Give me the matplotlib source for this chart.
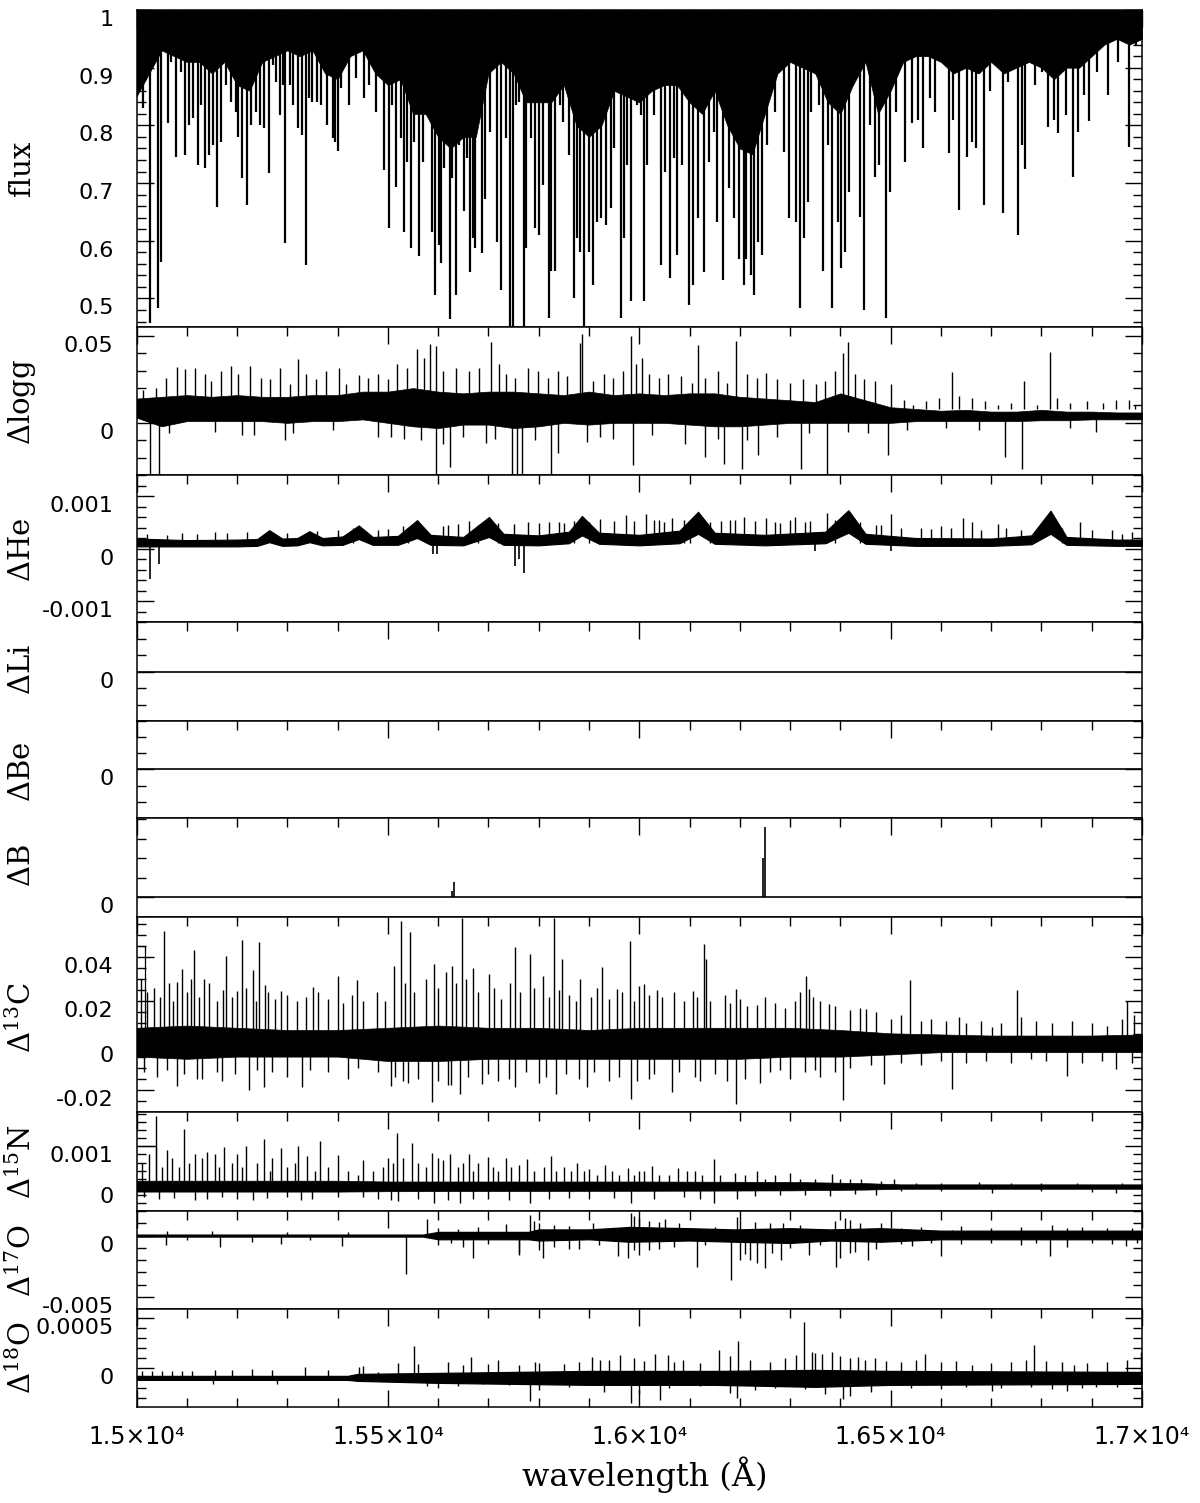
import numpy as np
import matplotlib
matplotlib.use("Agg")
import matplotlib.pyplot as plt

plt.rcParams['mathtext.fontset'] = 'dejavuserif'

# ---------------- data ----------------
# flux: absorption line centres (A) and line-core flux
flux_line_wl = [15012, 15027, 15042, 15049, 15063, 15069, 15079, 15089, 15097, 15105,
                15112, 15123, 15128, 15137, 15145, 15153, 15160, 15168, 15178, 15188,
                15198, 15201, 15209, 15219, 15228, 15238, 15246, 15254, 15264, 15272,
                15277, 15285, 15291, 15296, 15305, 15311, 15321, 15329, 15337, 15344,
                15350, 15360, 15367, 15378, 15390, 15395, 15401, 15407, 15423, 15437,
                15453, 15463, 15476, 15492, 15503, 15509, 15516, 15526, 15533, 15539,
                15546, 15552, 15561, 15569, 15577, 15588, 15594, 15601, 15606, 15612,
                15624, 15628, 15635, 15642, 15652, 15657, 15664, 15670,
                15674, 15688, 15694, 15704, 15717, 15725, 15734, 15743, 15749, 15754,
                15761, 15770, 15774, 15784, 15792, 15800, 15809, 15820, 15825, 15833,
                15842, 15849, 15860, 15870, 15877, 15883, 15891, 15900, 15908, 15916,
                15923, 15933, 15943, 15949, 15963, 15969, 15976, 15984, 15996, 16003,
                16010, 16016, 16029, 16044, 16052, 16062, 16069, 16075, 16085, 16099,
                16107, 16117, 16128, 16138, 16148, 16155, 16167, 16178, 16188, 16199,
                16209, 16213, 16223, 16229, 16236, 16245, 16254, 16271, 16288, 16298,
                16311, 16319, 16327,
                16335, 16342, 16357, 16366, 16376, 16384, 16395, 16401, 16410, 16418,
                16426, 16439, 16448, 16459, 16469, 16476, 16490, 16498, 16511, 16528,
                16543, 16555, 16565, 16579, 16589, 16603, 16616, 16625, 16636, 16652,
                16662, 16669, 16685, 16698, 16723, 16733, 16754, 16762, 16768, 16787,
                16802, 16813, 16824, 16833, 16848, 16862, 16872, 16884, 16895, 16910,
                16932, 16953, 16974, 16988]
flux_line_min = [0.830, 0.457, 0.483, 0.564, 0.804, 0.910, 0.746, 0.893, 0.749, 0.801,
                 0.812, 0.731, 0.835, 0.726, 0.749, 0.766, 0.659, 0.772, 0.870, 0.841,
                 0.824, 0.780, 0.708, 0.662, 0.801, 0.824, 0.801, 0.795, 0.717, 0.905,
                 0.876, 0.818, 0.870, 0.596, 0.870, 0.835, 0.795, 0.783, 0.558, 0.847,
                 0.841, 0.841, 0.835, 0.801, 0.778, 0.772, 0.755, 0.864, 0.835, 0.882,
                 0.847, 0.870, 0.824, 0.723, 0.622, 0.835, 0.694, 0.778, 0.616, 0.737,
                 0.587, 0.772, 0.573, 0.737, 0.818, 0.616, 0.506, 0.593, 0.561, 0.726,
                 0.465, 0.708, 0.506, 0.766, 0.651, 0.743, 0.546, 0.604,
                 0.587, 0.578, 0.673, 0.789, 0.598, 0.515, 0.778, 0.440, 0.440, 0.835,
                 0.841, 0.440, 0.587, 0.778, 0.622, 0.610, 0.697, 0.466, 0.547, 0.547,
                 0.835, 0.806, 0.749, 0.500, 0.604, 0.581, 0.440, 0.581, 0.523, 0.633,
                 0.639, 0.627, 0.656, 0.760, 0.466, 0.604, 0.731, 0.495, 0.835, 0.818,
                 0.495, 0.731, 0.818, 0.558, 0.720, 0.535, 0.743, 0.575, 0.731, 0.489,
                 0.523, 0.639, 0.546, 0.737, 0.789, 0.633, 0.532, 0.691, 0.639, 0.569,
                 0.523, 0.569, 0.540, 0.506, 0.598, 0.575, 0.766, 0.824, 0.754, 0.639,
                 0.633, 0.483, 0.604,
                 0.668, 0.824, 0.835, 0.547, 0.766, 0.483, 0.633, 0.552, 0.581, 0.685,
                 0.870, 0.642, 0.480, 0.801, 0.711, 0.731, 0.466, 0.685, 0.824, 0.737,
                 0.804, 0.809, 0.760, 0.847, 0.824, 0.910, 0.752, 0.809, 0.653, 0.746,
                 0.772, 0.760, 0.662, 0.859, 0.648, 0.876, 0.610, 0.766, 0.725, 0.870,
                 0.893, 0.798, 0.809, 0.786, 0.818, 0.711, 0.789, 0.853, 0.807, 0.893,
                 0.853, 0.910, 0.763, 0.939]
# flux: lower edge of the blended (solid) region
flux_env_wl = [15000, 15025, 15050, 15075, 15100, 15125, 15150, 15175, 15200, 15225,
               15250, 15275, 15300, 15325, 15350, 15375, 15400, 15425, 15450, 15475,
               15500, 15525, 15550, 15575, 15600, 15625, 15650, 15675, 15700, 15725,
               15750, 15775, 15800, 15825, 15850, 15875, 15900, 15925, 15950, 15975,
               16000, 16025, 16050, 16075, 16100, 16125, 16150, 16175, 16200, 16225,
               16250, 16275, 16300, 16325, 16350, 16375, 16400, 16425, 16450, 16475,
               16500, 16525, 16550, 16575, 16600, 16625, 16650, 16675, 16700, 16725,
               16750, 16775, 16800, 16825, 16850, 16875, 16900, 16925, 16950, 16975, 17000]
flux_env = [0.85, 0.89, 0.93, 0.92, 0.91, 0.91, 0.89, 0.91, 0.87, 0.86,
            0.91, 0.92, 0.93, 0.92, 0.93, 0.89, 0.88, 0.92, 0.93, 0.89,
            0.87, 0.88, 0.82, 0.82, 0.78, 0.76, 0.78, 0.78, 0.89, 0.91,
            0.89, 0.84, 0.84, 0.84, 0.87, 0.80, 0.78, 0.80, 0.86, 0.85,
            0.84, 0.86, 0.87, 0.87, 0.84, 0.82, 0.86, 0.80, 0.76, 0.75,
            0.82, 0.89, 0.91, 0.90, 0.89, 0.84, 0.82, 0.87, 0.91, 0.82,
            0.86, 0.91, 0.92, 0.92, 0.91, 0.89, 0.90, 0.89, 0.91, 0.89,
            0.90, 0.91, 0.90, 0.88, 0.90, 0.90, 0.92, 0.94, 0.95, 0.94, 0.95]

# delta log g
env_wl = [15000, 15050, 15100, 15150, 15200, 15250, 15300, 15350, 15400, 15450,
          15500, 15550, 15600, 15650, 15700, 15750, 15800, 15850, 15900, 15950,
          16000, 16050, 16100, 16150, 16200, 16250, 16300, 16350, 16400, 16450,
          16500, 16550, 16600, 16650, 16700, 16750, 16800, 16850, 16900, 16950, 17000]
logg_hi = [0.014, 0.015, 0.016, 0.015, 0.016, 0.015, 0.015, 0.016, 0.016, 0.018,
           0.018, 0.020, 0.018, 0.017, 0.018, 0.018, 0.017, 0.016, 0.018, 0.016,
           0.017, 0.016, 0.017, 0.017, 0.015, 0.014, 0.013, 0.012, 0.017, 0.013,
           0.009, 0.008, 0.007, 0.0075, 0.0065, 0.0065, 0.0075, 0.0065, 0.0065, 0.006, 0.006]
logg_lo = [0.003, -0.002, 0.001, 0.001, 0.001, 0.001, 0.0, 0.001, 0.001, 0.002,
           0.0, -0.002, -0.003, -0.001, -0.001, -0.003, -0.002, 0.0, -0.001, 0.0,
           0.0, 0.0, -0.001, -0.002, -0.002, -0.001, 0.0, 0.0, 0.0, 0.0,
           0.0, 0.001, 0.001, 0.001, 0.001, 0.001, 0.0015, 0.0015, 0.002, 0.002, 0.002]
logg_up_wl = [15081, 15117, 15188, 15225, 15286, 15322, 15403, 15442, 15558, 15584,
              15595, 15705, 15779, 15883, 15887, 15984, 16006, 16117, 16192, 16253,
              16406, 16416, 16623, 16818, 16766, 16974,
              15013, 15039, 15058, 15097, 15136, 15149, 15169, 15201, 15247, 15266,
              15305, 15338, 15357, 15377, 15416, 15461, 15481, 15500, 15519, 15539,
              15571, 15610, 15636, 15662, 15682, 15721, 15734, 15753, 15799, 15818,
              15838, 15857, 15909, 15929, 15948, 15968, 15994, 16019, 16039, 16058,
              16084, 16104, 16130, 16156, 16175, 16214, 16234, 16273, 16299, 16325,
              16351, 16370, 16390, 16429, 16448, 16468, 16500, 16526, 16545, 16571,
              16597, 16636, 16662, 16688, 16714, 16740, 16792, 16831, 16857, 16890,
              16922, 16948, 16987]
logg_up = [0.0322, 0.0318, 0.0328, 0.0328, 0.0318, 0.0366, 0.0318, 0.0275, 0.0424, 0.0453,
           0.0444, 0.0463, 0.0318, 0.0457, 0.0512, 0.0502, 0.0376, 0.0450, 0.0469, 0.0289,
           0.0400, 0.0463, 0.0295, 0.0405, 0.0241, 0.0134,
           0.0192, 0.0202, 0.0260, 0.0308, 0.0279, 0.0240, 0.0298, 0.0279, 0.0260, 0.0250,
           0.0221, 0.0279, 0.0250, 0.0298, 0.0221, 0.0260, 0.0279, 0.0250, 0.0337, 0.0318,
           0.0376, 0.0298, 0.0318, 0.0298, 0.0318, 0.0337, 0.0279, 0.0260, 0.0298, 0.0260,
           0.0298, 0.0269, 0.0240, 0.0279, 0.0260, 0.0298, 0.0337, 0.0279, 0.0260, 0.0279,
           0.0269, 0.0231, 0.0260, 0.0298, 0.0231, 0.0279, 0.0260, 0.0250, 0.0231, 0.0250,
           0.0221, 0.0240, 0.0298, 0.0279, 0.0250, 0.0240, 0.0221, 0.0134, 0.0105, 0.0124,
           0.0143, 0.0153, 0.0143, 0.0124, 0.0105, 0.0115, 0.0105, 0.0143, 0.0115, 0.0124,
           0.0115, 0.0134, 0.0105]
logg_dn_wl = [15026, 15045, 15210, 15296, 15506, 15595, 15623, 15695, 15747, 15756,
              15766, 15825, 15838, 15987, 16130, 16169, 16204, 16236, 16322, 16374,
              16494, 16727, 16762, 16909,
              15065, 15156, 15234, 15312, 15390, 15481, 15532, 15565, 15610, 15649,
              15714, 15792, 15896, 15922, 15948, 16026, 16091, 16156, 16214, 16273,
              16338, 16416, 16455, 16532, 16610, 16675, 16857]
logg_dn = [-0.035, -0.035, -0.0070, -0.0098, -0.0080, -0.0293, -0.0255, -0.0118, -0.035, -0.035,
           -0.035, -0.035, -0.0176, -0.0244, -0.0195, -0.0235, -0.0264, -0.0186, -0.0264, -0.0293,
           -0.0186, -0.0195, -0.0264, -0.0050,
           -0.006, -0.005, -0.007, -0.006, -0.004, -0.008, -0.009, -0.010, -0.012, -0.008,
           -0.009, -0.010, -0.011, -0.008, -0.009, -0.007, -0.012, -0.009, -0.010, -0.008,
           -0.006, -0.005, -0.006, -0.004, -0.003, -0.004, -0.003]

# delta He (band with Brackett-line bumps)
he_wl = [15000, 15100, 15200, 15240, 15264, 15290, 15320, 15344, 15370, 15410,
         15442, 15470, 15520, 15558, 15585, 15650, 15701, 15730, 15800, 15860,
         15886, 15920, 16000, 16080, 16117, 16150, 16250, 16370, 16416, 16450,
         16550, 16700, 16780, 16818, 16850, 16950, 17000]
he_lo = [0.00004, 0.00004, 0.00004, 0.00005, 0.00012, 0.00005, 0.00006, 0.00012, 0.00006, 0.00007,
         0.00018, 0.00007, 0.00007, 0.00020, 0.00007, 0.00006, 0.00022, 0.00007, 0.00006, 0.00010,
         0.00025, 0.00009, 0.00006, 0.00010, 0.00028, 0.00009, 0.00006, 0.00010, 0.00030, 0.00009,
         0.00005, 0.00005, 0.00008, 0.00028, 0.00007, 0.00005, 0.00005]
he_hi = [0.00019, 0.00016, 0.00017, 0.00018, 0.00035, 0.00019, 0.00020, 0.00033, 0.00020, 0.00023,
         0.00044, 0.00022, 0.00024, 0.00054, 0.00026, 0.00022, 0.00060, 0.00028, 0.00025, 0.00032,
         0.00062, 0.00030, 0.00026, 0.00034, 0.00070, 0.00030, 0.00026, 0.00032, 0.00073, 0.00028,
         0.00020, 0.00019, 0.00025, 0.00072, 0.00022, 0.00017, 0.00017]
he_up_wl = [15922, 15974, 16013, 16065, 16162, 16208, 16253, 16309, 16374, 16500,
            16643, 16662, 16714, 16877, 16961, 15662, 15779, 15610, 15156,
            15820, 15850, 15950, 16040, 16100, 16190, 16280, 16340, 16470, 16560,
            15020, 15060, 15090, 15120, 15180, 15220, 15300, 15360, 15400, 15430,
            15480, 15500, 15530, 15540, 15620, 15640, 15680, 15720, 15750, 15800,
            15840, 15870, 15900, 15990, 16030, 16050, 16090, 16140, 16180, 16230,
            16270, 16300, 16330, 16390, 16440, 16480, 16520, 16580, 16600, 16620,
            16680, 16730, 16760, 16840, 16900, 16940, 16980]
he_up = [0.00056, 0.00063, 0.00065, 0.00059, 0.00053, 0.00060, 0.00059, 0.00060, 0.00067, 0.00066,
         0.00059, 0.00050, 0.00047, 0.00050, 0.00028, 0.00053, 0.00050, 0.00042, 0.00031,
         0.00050, 0.00048, 0.00052, 0.00055, 0.00050, 0.00054, 0.00048, 0.00052, 0.00045, 0.00040,
         0.00028, 0.00025, 0.00030, 0.00028, 0.00030, 0.00032, 0.00030, 0.00034, 0.00035, 0.00040,
         0.00036, 0.00038, 0.00042, 0.00040, 0.00044, 0.00046, 0.00045, 0.00048, 0.00046, 0.00048,
         0.00050, 0.00052, 0.00050, 0.00052, 0.00054, 0.00050, 0.00054, 0.00050, 0.00055, 0.00052,
         0.00050, 0.00054, 0.00050, 0.00054, 0.00050, 0.00045, 0.00040, 0.00038, 0.00042, 0.00040,
         0.00036, 0.00040, 0.00036, 0.00040, 0.00036, 0.00035, 0.00032]
he_dn_wl = [15026, 15045, 15753, 15770, 15597, 15590, 15760, 16350, 16500]
he_dn = [-0.00058, -0.00030, -0.00034, -0.00047, -0.00010, -0.00010, -0.00020, -0.00005, -0.00005]

# delta B
b_wl = [15627, 15632, 16246, 16251]
b_val = [0.00035, 0.00081, 0.0020, 0.0036]

# delta 13C
c13_wl = [15000, 15100, 15200, 15300, 15400, 15500, 15600, 15700, 15800, 15900, 16000,
          16100, 16200, 16300, 16400, 16500, 16600, 16700, 16800, 16900, 17000]
c13_hi = [0.008, 0.009, 0.008, 0.007, 0.007, 0.008, 0.009, 0.008, 0.008, 0.007, 0.008,
          0.008, 0.008, 0.008, 0.007, 0.0055, 0.005, 0.0045, 0.0045, 0.0045, 0.005]
c13_lo = [-0.005, -0.006, -0.005, -0.005, -0.005, -0.007, -0.007, -0.006, -0.006, -0.006, -0.006,
          -0.006, -0.006, -0.005, -0.005, -0.004, -0.003, -0.003, -0.003, -0.003, -0.003]
c13_up_wl = [15055, 15114, 15179, 15210, 15243, 15526, 15545, 15647, 15753, 15831,
             15981, 16129, 16331, 16539, 16751, 16970, 15081, 15091, 15135, 15199,
             15231, 15255, 15288, 15351, 15400, 15439, 15513, 15591, 15627, 15669,
             15701, 15782, 15809, 15847, 15883, 15925, 15955, 16010, 16036, 16106,
             16132, 16192, 16234, 16338, 16377, 16452, 16636, 16701,
             15008, 15020, 15035, 15046, 15065, 15072, 15100, 15108, 15125, 15145,
             15160, 15172, 15190, 15218, 15238, 15262, 15275, 15300, 15320, 15338,
             15362, 15380, 15410, 15428, 15450, 15478, 15495, 15535, 15552, 15575,
             15600, 15615, 15635, 15655, 15680, 15712, 15725, 15742, 15762, 15790,
             15820, 15840, 15860, 15875, 15905, 15915, 15940, 15965, 15990, 16000,
             16020, 16045, 16070, 16090, 16115, 16140, 16170, 16180, 16200, 16215,
             16250, 16270, 16290, 16310, 16320, 16345, 16360, 16390, 16420, 16440,
             16470, 16500, 16520, 16560, 16580, 16610, 16650, 16680, 16720, 16760,
             16790, 16820, 16860, 16900, 16930, 16960, 16985]
c13_up = [0.0516, 0.0432, 0.0406, 0.0474, 0.0467, 0.0561, 0.0512, 0.0576, 0.0444, 0.0576,
          0.0471, 0.0456, 0.0313, 0.0296, 0.0251, 0.0203, 0.0286, 0.0346, 0.0301, 0.0248,
          0.0339, 0.0271, 0.0248, 0.0264, 0.0316, 0.0294, 0.0361, 0.0369, 0.0361, 0.0351,
          0.0323, 0.0414, 0.0316, 0.0391, 0.0301, 0.0354, 0.0256, 0.0279, 0.0251, 0.0248,
          0.0391, 0.0256, 0.0181, 0.0256, 0.0188, 0.0166, 0.0128, 0.0083,
          0.030, 0.024, 0.026, 0.022, 0.028, 0.020, 0.024, 0.030, 0.022, 0.028,
          0.020, 0.025, 0.022, 0.026, 0.020, 0.024, 0.021, 0.023, 0.020, 0.022,
          0.024, 0.021, 0.019, 0.023, 0.020, 0.024, 0.020, 0.028, 0.024, 0.030,
          0.026, 0.033, 0.028, 0.030, 0.024, 0.026, 0.021, 0.028, 0.024, 0.026,
          0.022, 0.025, 0.023, 0.020, 0.022, 0.026, 0.021, 0.024, 0.020, 0.027,
          0.023, 0.022, 0.024, 0.020, 0.022, 0.020, 0.023, 0.019, 0.021, 0.018,
          0.022, 0.019, 0.017, 0.020, 0.024, 0.022, 0.020, 0.018, 0.016, 0.017,
          0.015, 0.012, 0.014, 0.011, 0.012, 0.011, 0.010, 0.011, 0.010, 0.013,
          0.011, 0.010, 0.011, 0.010, 0.009, 0.012, 0.014]
c13_dn_wl = [15081, 15223, 15253, 15329, 15506, 15587, 15643, 15688, 15753, 15835,
             15896, 15984, 16065, 16192, 16405, 16487, 16623, 16851, 16948,
             15120, 15170, 15300, 15420, 15540, 15620, 15720, 15800, 15940, 16020,
             16120, 16240, 16300, 16360,
             15015, 15040, 15060, 15095, 15130, 15160, 15195, 15240, 15270, 15345,
             15380, 15440, 15480, 15515, 15530, 15560, 15600, 15625, 15660, 15700,
             15740, 15775, 15815, 15855, 15880, 15910, 15960, 15995, 16030, 16080,
             16110, 16150, 16175, 16210, 16260, 16280, 16330, 16350, 16390, 16420,
             16460, 16520, 16560, 16600, 16650, 16690, 16740, 16780, 16810, 16880,
             16920, 16980]
c13_dn = [-0.0181, -0.0200, -0.0188, -0.0185, -0.0181, -0.0256, -0.0218, -0.0173, -0.0188, -0.0221,
          -0.0188, -0.0241, -0.0211, -0.0264, -0.0248, -0.0173, -0.0196, -0.0136, -0.0106,
          -0.015, -0.016, -0.014, -0.015, -0.017, -0.018, -0.016, -0.017, -0.016, -0.015,
          -0.016, -0.017, -0.015, -0.014,
          -0.012, -0.014, -0.011, -0.013, -0.015, -0.012, -0.013, -0.011, -0.012, -0.011,
          -0.012, -0.010, -0.012, -0.014, -0.016, -0.015, -0.016, -0.018, -0.014, -0.013,
          -0.015, -0.012, -0.014, -0.013, -0.015, -0.012, -0.014, -0.016, -0.013, -0.012,
          -0.014, -0.013, -0.016, -0.015, -0.012, -0.011, -0.012, -0.011, -0.012, -0.010,
          -0.009, -0.008, -0.009, -0.007, -0.008, -0.007, -0.008, -0.006, -0.007, -0.008,
          -0.007, -0.008]
c13_box_wl = [15000, 15016, 15016]
c13_box = [0.045, 0.045, 0.0]

# delta 15N
n15_wl = [15000, 15400, 15500, 16000, 16300, 16450, 16520, 17000]
n15_hi = [0.00015, 0.00015, 0.00013, 0.00013, 0.00012, 0.00009, 0.00006, 0.00006]
n15_lo = [-0.00012, -0.00012, -0.00011, -0.00010, -0.00009, -0.00007, -0.00005, -0.00005]
n15_up_wl = [15039, 15094, 15117, 15156, 15175, 15218, 15253, 15288, 15322, 15364,
             15400, 15519, 15548, 15588, 15623, 15662, 15699, 15734, 15777, 15825,
             15877, 15932, 15977, 16026, 16078, 16149, 16234, 16299, 16383, 16442,
             16506, 16675, 16870,
             15060, 15140, 15200, 15270, 15340, 15450, 15500, 15610, 15680, 15760,
             15850, 15900, 16000, 16110, 16190, 16270,
             15010, 15025, 15050, 15070, 15085, 15105, 15130, 15165, 15190, 15210,
             15240, 15265, 15300, 15315, 15355, 15380, 15420, 15440, 15470, 15490,
             15510, 15530, 15560, 15575, 15600, 15640, 15650, 15670, 15710, 15720,
             15745, 15790, 15810, 15835, 15865, 15890, 15915, 15945, 15960, 15990,
             16010, 16040, 16060, 16095, 16125, 16160, 16210, 16250, 16320, 16350,
             16400, 16420, 16480, 16550, 16600, 16740, 16800, 16960]
n15_up = [0.00176, 0.00143, 0.00080, 0.00080, 0.00099, 0.00102, 0.00118, 0.00097, 0.00101, 0.00113,
          0.00078, 0.00134, 0.00109, 0.00084, 0.00080, 0.00080, 0.00074, 0.00072, 0.00068, 0.00076,
          0.00059, 0.00055, 0.00047, 0.00051, 0.00047, 0.00068, 0.00038, 0.00034, 0.00032, 0.00018,
          0.00018, 0.00013, 0.00009,
          0.00090, 0.00085, 0.00080, 0.00070, 0.00075, 0.00065, 0.00070, 0.00065, 0.00060, 0.00055,
          0.00050, 0.00045, 0.00040, 0.00040, 0.00035, 0.00030,
          0.0006, 0.0008, 0.0005, 0.0007, 0.0005, 0.0006, 0.0007, 0.0005, 0.0006, 0.0005,
          0.0006, 0.0004, 0.0005, 0.0006, 0.0004, 0.0005, 0.0004, 0.0003, 0.0004, 0.0005,
          0.0006, 0.0007, 0.0006, 0.0005, 0.0007, 0.0005, 0.0006, 0.0004, 0.0005, 0.0004,
          0.0005, 0.0004, 0.0005, 0.0004, 0.0004, 0.0004, 0.0003, 0.0004, 0.0003, 0.0003,
          0.0004, 0.0003, 0.0003, 0.0004, 0.0003, 0.0003, 0.0003, 0.0002, 0.0002, 0.0002,
          0.0002, 0.0002, 0.00015, 0.0001, 0.0001, 0.0001, 0.0001, 0.0001]
n15_dn_wl = [15117, 15231, 15327, 15506, 15591, 15643, 15782, 15984, 16149, 16195,
             16380, 16470, 16701, 16948,
             15015, 15045, 15075, 15140, 15170, 15200, 15260, 15300, 15350, 15400,
             15450, 15480, 15520, 15560, 15620, 15670, 15700, 15740, 15820, 15860,
             15900, 15950, 16030, 16090, 16120, 16230, 16280, 16330, 16430, 16520,
             16600, 16800, 16900]
n15_dn = [-0.00033, -0.00033, -0.00033, -0.00033, -0.00041, -0.00041, -0.00041, -0.00041, -0.00041, -0.00030,
          -0.00024, -0.00020, -0.00016, -0.00016,
          -0.00025, -0.00030, -0.00028, -0.00030, -0.00025, -0.00030, -0.00028, -0.00025, -0.00030, -0.00025,
          -0.00025, -0.00030, -0.00035, -0.00030, -0.00033, -0.00030, -0.00030, -0.00033, -0.00030, -0.00028,
          -0.00030, -0.00028, -0.00030, -0.00025, -0.00030, -0.00022, -0.00020, -0.00020, -0.00018, -0.00010,
          -0.00010, -0.00010, -0.00012]
n15_box_wl = [15000, 15039, 15039]
n15_box = [0.0010, 0.0010, 0.0]

# delta 17O
o17_wl = [15000, 15570, 15600, 15780, 15800, 15900, 15980, 16100, 16190, 16300,
          16380, 16480, 16600, 17000]
o17_hi = [0.00008, 0.00008, 0.0003, 0.0003, 0.0005, 0.0005, 0.0007, 0.0006, 0.0005, 0.0006,
          0.0005, 0.0006, 0.0004, 0.0004]
o17_lo = [-0.00008, -0.00008, -0.0003, -0.0003, -0.0004, -0.0003, -0.0005, -0.0004, -0.0005, -0.0006,
          -0.0004, -0.0005, -0.0003, -0.0003]
o17_dn_wl = [15058, 15166, 15288, 15409, 15536, 15669, 15809, 15881, 15958, 15978,
             16114, 16182, 16251, 16282, 16392, 16455, 16543, 16601, 16818, 16968, 16338,
             15100, 15230, 15345, 15760, 16020, 16220, 16420,
             15600, 15625, 15650, 15700, 15760, 15800, 15830, 15860, 15920, 15990,
             16000, 16040, 16070, 16130, 16200, 16210, 16235, 16265, 16300, 16360,
             16400, 16430, 16470, 16520, 16580, 16640, 16700, 16760, 16790, 16850,
             16900, 16940, 16990]
o17_dn = [-0.00074, -0.00096, -0.00069, -0.00088, -0.0031, -0.0018, -0.00179, -0.00107, -0.00170, -0.0018,
          -0.00253, -0.00362, -0.00261, -0.00198, -0.00253, -0.00198, -0.00088, -0.00165, -0.00165, -0.00088, -0.00157,
          -0.0004, -0.0005, -0.0004, -0.0016, -0.0012, -0.0020, -0.0014,
          -0.0008, -0.0006, -0.0009, -0.0007, -0.0014, -0.0012, -0.0009, -0.0011, -0.0008, -0.0012,
          -0.0016, -0.0011, -0.0009, -0.0008, -0.0020, -0.0015, -0.0022, -0.0014, -0.0010, -0.0008,
          -0.0018, -0.0013, -0.0011, -0.0007, -0.0006, -0.0007, -0.0006, -0.0008, -0.0006, -0.0009,
          -0.0006, -0.0007, -0.0006]
o17_up_wl = [15578, 15782, 15984, 16195, 16409, 16623, 16851, 15734, 15909, 16052,
             16286, 16481, 15060, 15150, 15300, 15420,
             15600, 15640, 15680, 15790, 15800, 15830, 15860, 15990, 16000, 16020,
             16040, 16080, 16150, 16200, 16230, 16260, 16320, 16390, 16420, 16440,
             16520, 16560, 16640, 16700, 16760, 16820, 16880, 16930, 16980]
o17_up = [0.00132, 0.00168, 0.00187, 0.00151, 0.00146, 0.00049, 0.00063, 0.00091, 0.00104, 0.00132,
          0.00104, 0.00104, 0.0004, 0.0004, 0.0003, 0.0003,
          0.0006, 0.0005, 0.0007, 0.0012, 0.0010, 0.0009, 0.0008, 0.0016, 0.0014, 0.0012,
          0.0011, 0.0010, 0.0007, 0.0013, 0.0011, 0.0010, 0.0009, 0.0012, 0.0013, 0.0010,
          0.0006, 0.0007, 0.0008, 0.0006, 0.0007, 0.0009, 0.0007, 0.0006, 0.0006]

# delta 18O
o18_wl = [15000, 15420, 15440, 15600, 15900, 16150, 16350, 16500, 17000]
o18_hi = [-0.00008, -0.00008, -0.00006, -0.00005, -0.00003, -0.00003, -0.00002, -0.00003, -0.00004]
o18_lo = [-0.00012, -0.00012, -0.00013, -0.00015, -0.00017, -0.00017, -0.00019, -0.00017, -0.00016]
o18_up_wl = [15552, 15666, 15792, 15906, 15922, 15961, 16032, 16058, 16088, 16158,
             16197, 16312, 16327, 16344, 16364, 16383, 16435, 16468, 16569, 16662,
             16786, 16864, 16998, 15442, 15335, 15230, 15156,
             15010, 15030, 15050, 15070, 15090, 15110, 15190, 15270, 15380, 15720,
             15450, 15480, 15520, 15560, 15620, 15650, 15700, 15760, 15800, 15850,
             15880, 15940, 15990, 16010, 16070, 16120, 16180, 16220, 16260, 16290,
             16350, 16400, 16420, 16450, 16490, 16520, 16550, 16600, 16630, 16700,
             16740, 16770, 16810, 16840, 16890, 16930, 16970]
o18_up = [0.00022, 0.00011, 0.00006, 0.00011, 0.00008, 0.00013, 0.00014, 0.00013, 0.00008, 0.00018,
          0.00027, 0.00013, 0.00046, 0.00016, 0.00014, 0.00016, 0.00011, 0.00010, 0.00014, 0.00003,
          0.00023, 0.00003, 0.00016, 0.00001, 0.00001, -0.00001, -0.00002,
          -0.00003, -0.00003, -0.00003, -0.00003, -0.00003, -0.00003, -0.00002, -0.00002, -0.00002, 0.00008,
          0.00002, -0.00004, 0.00005, 0.00004, 0.00006, 0.00003, 0.00004, 0.00003, 0.00005, 0.00004,
          0.00006, 0.00008, 0.00010, 0.00007, 0.00006, 0.00005, 0.00012, 0.00008, 0.00006, 0.00010,
          0.00015, 0.00012, 0.00010, 0.00008, 0.00007, 0.00006, 0.00008, 0.00006, 0.00007, 0.00005,
          0.00006, 0.00008, 0.00007, 0.00006, 0.00005, 0.00006, 0.00008]
o18_dn_wl = [15782, 15984, 16042, 16195, 16405, 16701, 16851, 16909, 15578, 15153, 15279,
             15600, 15640, 15690, 15740, 15800, 15860, 15930, 16000, 16060, 16120,
             16180, 16230, 16270, 16330, 16370, 16420, 16460, 16540, 16600, 16650,
             16720, 16780, 16820, 16880, 16950]
o18_dn = [-0.00033, -0.00035, -0.00032, -0.00030, -0.00031, -0.00023, -0.00023, -0.00019, -0.00018, -0.00016, -0.00016,
          -0.00020, -0.00018, -0.00016, -0.00017, -0.00022, -0.00019, -0.00024, -0.00026, -0.00020, -0.00018,
          -0.00025, -0.00022, -0.00020, -0.00021, -0.00026, -0.00028, -0.00024, -0.00020, -0.00021, -0.00019,
          -0.00020, -0.00019, -0.00021, -0.00020, -0.00019]

# axis settings: label, ylim, major ticks, tick labels, minor step
ylabels = ['flux', r'$\Delta$logg', r'$\Delta$He', r'$\Delta$Li', r'$\Delta$Be', r'$\Delta$B',
           r'$\Delta^{13}$C', r'$\Delta^{15}$N', r'$\Delta^{17}$O', r'$\Delta^{18}$O']
ylims = [(0.45, 1.0), (-0.03, 0.055), (-0.0014, 0.0014), (-0.003, 0.003), (-0.003, 0.003),
         (-0.001, 0.00405), (-0.03, 0.058), (-0.0006, 0.00185), (-0.006, 0.002), (-0.00039, 0.00059)]
yticks = [[0.5, 0.6, 0.7, 0.8, 0.9, 1.0], [0, 0.05], [-0.001, 0, 0.001], [0], [0], [0],
          [-0.02, 0, 0.02, 0.04], [0, 0.001], [-0.005, 0], [0, 0.0005]]
yticklabels = [['0.5', '0.6', '0.7', '0.8', '0.9', '1'], ['0', '0.05'], ['-0.001', '0', '0.001'],
               ['0'], ['0'], ['0'], ['-0.02', '0', '0.02', '0.04'], ['0', '0.001'],
               ['-0.005', '0'], ['0', '0.0005']]
yminor = [0.02, 0.01, 0.0002, 0.001, 0.001, 0.001, 0.005, 0.0002, 0.001, 0.0001]
xticks = [15000, 15500, 16000, 16500, 17000]
xticklabels = ['1.5×10⁴', '1.55×10⁴', '1.6×10⁴', '1.65×10⁴', '1.7×10⁴']

# ---------------- figure ----------------
W, H = 1200, 1503
fig = plt.figure(figsize=(W / 100, H / 100), dpi=100)

# panel edges in pixels from the top
edges = [(10, 327.3), (327.3, 475), (475, 622), (622, 721), (721, 818), (818, 917),
         (917, 1112), (1112, 1211), (1211, 1309.3), (1309.3, 1406.7)]
label_y = [168, 402, 550, 670, 772, 866, 1018, 1162, 1261, 1358]
x0, x1 = 136.5, 1142

axes = []
for (t, b) in edges:
    ax = fig.add_axes([x0 / W, 1 - b / H, (x1 - x0) / W, (b - t) / H])
    axes.append(ax)

lw = 1.0
k = 'black'

# flux
ax = axes[0]
ax.fill_between(flux_env_wl, flux_env, 1.0, color=k, lw=0.5)
ax.vlines(flux_line_wl, flux_line_min, 1.0, color=k, lw=1.6)

# logg
ax = axes[1]
ax.fill_between(env_wl, logg_lo, logg_hi, color=k, lw=0.5)
ax.vlines(logg_up_wl, 0.008, logg_up, color=k, lw=lw)
ax.vlines(logg_dn_wl, 0.005, logg_dn, color=k, lw=lw)

# He
ax = axes[2]
ax.fill_between(he_wl, he_lo, he_hi, color=k, lw=0.8)
ax.vlines(he_up_wl, 0.0001, he_up, color=k, lw=lw)
ax.vlines(he_dn_wl, 0.0001, he_dn, color=k, lw=1.2)

# Li, Be flat
axes[3].plot([15000, 17000], [0, 0], color=k, lw=1.2)
axes[4].plot([15000, 17000], [0, 0], color=k, lw=1.2)

# B
ax = axes[5]
ax.plot([15000, 17000], [0, 0], color=k, lw=1.2)
ax.vlines(b_wl, 0, b_val, color=k, lw=1.2)

# 13C
ax = axes[6]
ax.fill_between(c13_wl, c13_lo, c13_hi, color=k, lw=0.5)
ax.vlines(c13_up_wl, 0.002, c13_up, color=k, lw=lw)
ax.vlines(c13_dn_wl, 0.002, c13_dn, color=k, lw=lw)
ax.plot(c13_box_wl, c13_box, color=k, lw=0.9)

# 15N
ax = axes[7]
ax.fill_between(n15_wl, n15_lo, n15_hi, color=k, lw=0.5)
ax.vlines(n15_up_wl, 0.00002, n15_up, color=k, lw=lw)
ax.vlines(n15_dn_wl, 0.00002, n15_dn, color=k, lw=lw)
ax.plot(n15_box_wl, n15_box, color=k, lw=0.9)

# 17O
ax = axes[8]
ax.fill_between(o17_wl, o17_lo, o17_hi, color=k, lw=0.9)
ax.vlines(o17_dn_wl, 0, o17_dn, color=k, lw=lw)
ax.vlines(o17_up_wl, 0, o17_up, color=k, lw=lw)

# 18O
ax = axes[9]
ax.fill_between(o18_wl, o18_lo, o18_hi, color=k, lw=0.9)
ax.vlines(o18_up_wl, -0.0001, o18_up, color=k, lw=lw)
ax.vlines(o18_dn_wl, -0.0001, o18_dn, color=k, lw=lw)

# ---------------- axes styling ----------------
n = len(axes)
for i, ax in enumerate(axes):
    last = (i == n - 1)
    ax.set_xlim(15000, 17000)
    ax.set_ylim(*ylims[i])
    ax.set_xticks(xticks)
    ax.set_xticks(np.arange(15000, 17001, 100), minor=True)
    if last:
        ax.set_xticklabels(xticklabels)
    else:
        ax.set_xticklabels([])
    ax.set_yticks(yticks[i], labels=yticklabels[i])
    lo, hi = ylims[i]
    step = yminor[i]
    ax.set_yticks(np.arange(np.ceil(lo / step) * step, hi + step * 0.01, step), minor=True)
    ax.tick_params(axis='both', which='both', direction='in', top=True, right=True,
                   bottom=last, width=1.0)
    ax.tick_params(axis='both', which='major', length=12.5)
    ax.tick_params(axis='both', which='minor', length=6.3)
    ax.tick_params(axis='y', labelsize=16, pad=16.5)
    ax.tick_params(axis='x', labelsize=17, pad=13)
    for lab in ax.get_yticklabels():
        lab.set_verticalalignment('top')
        lab.set_family('DejaVu Sans')
    for sp in ax.spines.values():
        sp.set_linewidth(1.1)
    fig.text(22 / W, 1 - label_y[i] / H, ylabels[i], rotation=90, ha='center', va='center',
             fontsize=21, family='DejaVu Serif')

fig.text(645 / W, 1 - 1475 / H, 'wavelength (Å)', ha='center', va='center',
         fontsize=23, family='DejaVu Serif')

fig.savefig('out.png', dpi=100)
